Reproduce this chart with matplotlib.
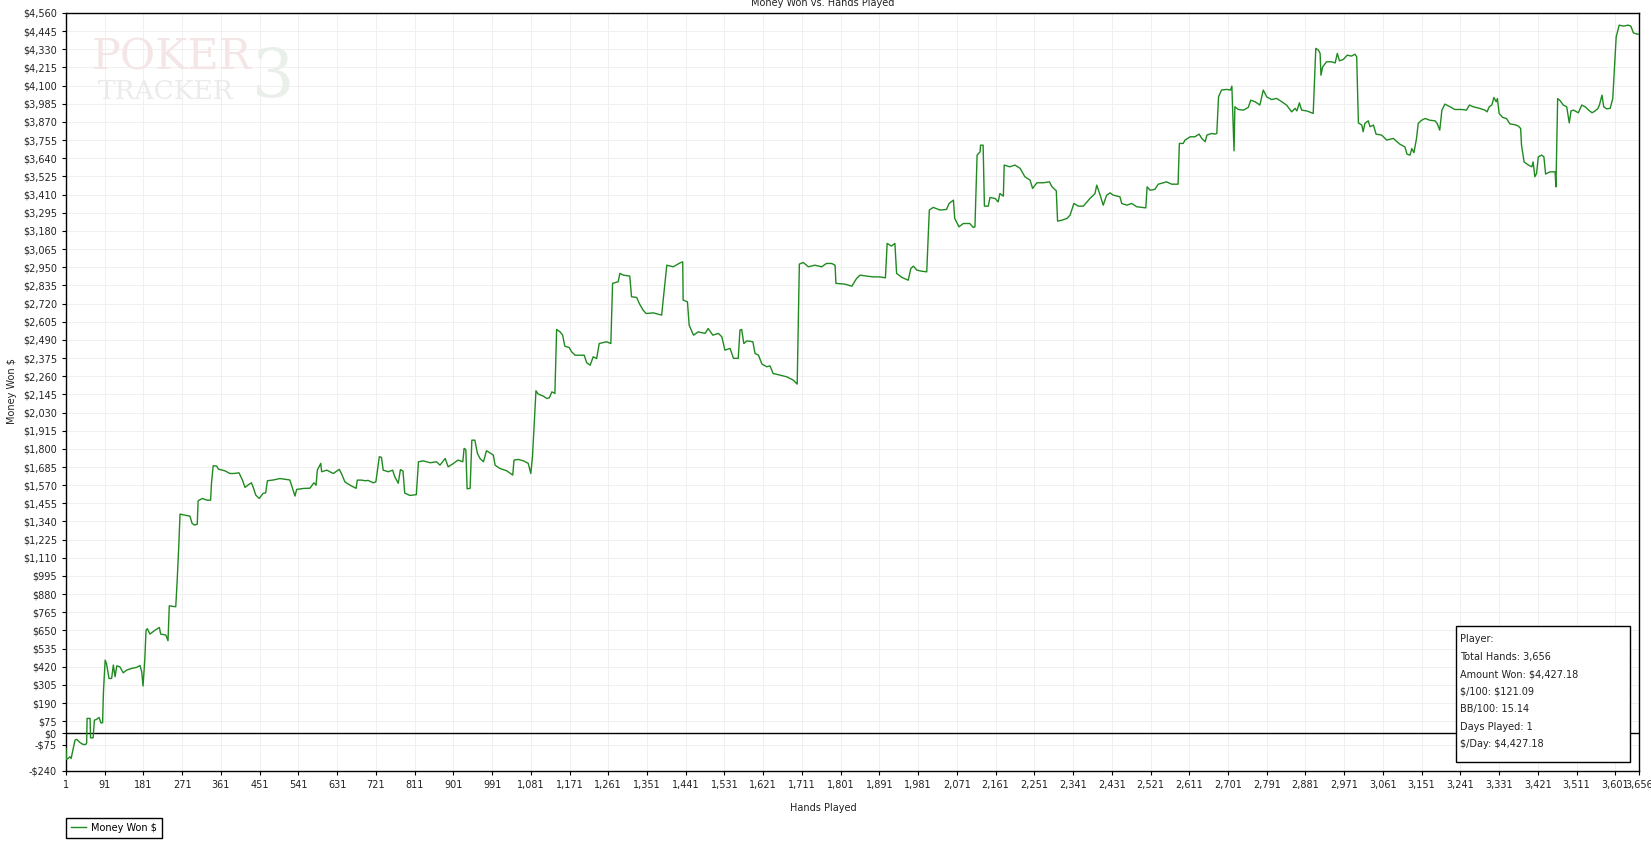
import matplotlib.pyplot as plt
from matplotlib.patches import Rectangle
from matplotlib.ticker import FuncFormatter

# cumulative winnings (hand number, dollars)
hands = [1, 2, 6, 10, 13, 16, 22, 26, 34, 41, 47, 49, 50, 57, 58, 64, 67, 72, 78, 82, 86, 88, 92,
         95, 101, 107, 111, 115, 119, 126, 134, 142, 154, 165, 173, 177, 180, 184, 187, 190, 196, 208,
         218, 221, 233, 238, 241, 256, 259, 263, 266, 277, 289, 294, 300, 306, 308, 318, 328, 337, 339,
         343, 351, 355, 370, 382, 391, 403, 411, 417, 427, 432, 436, 442, 450, 459, 465, 469, 483, 498,
         514, 521, 525, 533, 537, 552, 568, 573, 577, 582, 585, 593, 595, 607, 622, 636, 641, 649, 661,
         675, 678, 688, 696, 703, 715, 721, 729, 734, 738, 750, 760, 765, 773, 778, 784, 788, 800, 815,
         820, 831, 847, 862, 870, 882, 889, 901, 912, 923, 926, 930, 933, 940, 944, 951, 957, 963, 971,
         978, 986, 994, 998, 1009, 1025, 1039, 1042, 1052, 1064, 1075, 1081, 1085, 1093, 1098, 1110,
         1118, 1124, 1130, 1137, 1141, 1149, 1155, 1160, 1170, 1176, 1184, 1195, 1205, 1211, 1219, 1226,
         1234, 1240, 1257, 1267, 1271, 1284, 1288, 1296, 1311, 1315, 1327, 1333, 1342, 1349, 1366, 1385,
         1397, 1412, 1428, 1434, 1435, 1445, 1449, 1459, 1470, 1486, 1493, 1504, 1517, 1525, 1532, 1544,
         1552, 1563, 1567, 1571, 1576, 1583, 1597, 1602, 1610, 1618, 1629, 1637,
         1644, 1660, 1676, 1691, 1700, 1705, 1714, 1726, 1741, 1757, 1768, 1780, 1788, 1790, 1811, 1827,
         1838, 1846, 1861, 1877, 1892, 1905, 1909, 1919, 1927, 1931, 1943, 1958, 1964, 1970, 1978, 1989,
         2001, 2007, 2016, 2032, 2047, 2053, 2063, 2066, 2076, 2086, 2101, 2109, 2113, 2118, 2125, 2126,
         2132, 2135, 2144, 2148, 2160, 2167, 2171, 2179, 2181, 2194, 2206, 2218, 2229, 2241, 2247, 2257,
         2272, 2286, 2292, 2302, 2305, 2315, 2327, 2334, 2343, 2353, 2365, 2380, 2392, 2396, 2404, 2411,
         2419, 2427, 2434, 2450, 2454, 2466, 2477, 2489, 2500, 2510, 2513, 2520, 2531, 2539, 2551, 2558,
         2570, 2585, 2588, 2597, 2601, 2613, 2624, 2634, 2640, 2648, 2652, 2663, 2671, 2675, 2679, 2686,
         2698, 2707, 2710, 2715, 2717, 2725, 2737, 2748, 2754, 2764, 2775, 2783, 2791, 2802, 2814, 2826,
         2837, 2849, 2857, 2861, 2867, 2872, 2884, 2899, 2905, 2911, 2915, 2917, 2921, 2930, 2942, 2950,
         2955, 2960, 2969, 2978, 2988, 2996, 3000, 3004, 3012, 3015, 3019, 3027, 3031, 3039, 3045, 3058,
         3070, 3085, 3100, 3112, 3117, 3124, 3128, 3133, 3139, 3143, 3151, 3159, 3170, 3182, 3187, 3193,
         3198, 3205, 3217, 3228, 3244, 3255, 3262, 3271, 3286, 3298, 3303, 3308, 3314, 3319, 3324, 3327,
         3331, 3339, 3348, 3356, 3368, 3375, 3381, 3383, 3389, 3399, 3407, 3410, 3414, 3418, 3422, 3430,
         3435, 3439, 3449, 3461, 3463, 3467, 3473, 3480, 3488, 3494, 3498, 3504, 3515, 3523, 3531, 3539,
         3547, 3554, 3560, 3564, 3570, 3574, 3581, 3589, 3595, 3603, 3610, 3620, 3631, 3637, 3643, 3652,
         3656]
won = [-97, -167, -160, -150, -160, -120, -44, -40, -61, -72, -72, -60, 93, 93, -30, -30, 82, 87, 99, 65, 65, 262, 462,
       441, 346, 346, 431, 357, 426, 420, 382, 399, 410, 416, 428, 388, 298, 462, 652, 661, 627, 652,
       669, 627, 621, 585, 806, 800, 948, 1180, 1387, 1380, 1374, 1328, 1317, 1323, 1471, 1486, 1475, 1475, 1581,
       1693, 1691, 1672, 1661, 1644, 1644, 1648, 1602, 1556, 1577, 1585, 1556, 1507, 1486, 1518, 1522, 1598, 1603, 1612,
       1606, 1603, 1570, 1501, 1543, 1549, 1551, 1570, 1585, 1570, 1665, 1708, 1655, 1665, 1644, 1670, 1644, 1591, 1570,
       1550, 1602, 1602, 1598, 1600, 1585, 1591, 1750, 1746, 1665, 1655, 1665, 1623, 1582, 1668, 1660, 1520, 1505, 1510,
       1718, 1724, 1712, 1718, 1697, 1739, 1686, 1707, 1729, 1718, 1803, 1796, 1547, 1550, 1855, 1855, 1771, 1739, 1718,
       1788, 1775, 1760, 1697, 1676, 1661, 1634, 1729, 1733, 1724, 1708, 1644, 1754, 2168, 2147, 2134,
       2119, 2123, 2161, 2151, 2556, 2541, 2520, 2450, 2442, 2414, 2393, 2393, 2393, 2345, 2330, 2383,
       2372, 2467, 2478, 2467, 2848, 2858, 2911, 2900, 2894, 2763, 2759, 2721, 2678, 2657, 2661, 2647,
       2963, 2953, 2978, 2984, 2742, 2731, 2583, 2520, 2541, 2531, 2562, 2520, 2531, 2509, 2425, 2436,
       2373, 2373, 2552, 2556, 2467, 2484, 2478, 2404, 2393, 2337, 2320, 2325,
       2277, 2267, 2256, 2235, 2210, 2970, 2980, 2953, 2963, 2953, 2974, 2974, 2963, 2848, 2843, 2830,
       2879, 2900, 2894, 2889, 2889, 2883, 3101, 3084, 3101, 2911, 2886, 2868, 2942, 2957, 2932, 2925,
       2921, 3312, 3329, 3312, 3316, 3354, 3375, 3259, 3206, 3227, 3227, 3202, 3206, 3660, 3681, 3723,
       3723, 3337, 3337, 3392, 3385, 3364, 3417, 3400, 3597, 3586, 3597, 3576, 3523, 3502, 3449, 3485,
       3485, 3491, 3460, 3434, 3242, 3248, 3259, 3280, 3354, 3337, 3337, 3385, 3417, 3470, 3406, 3343,
       3406, 3421, 3407, 3396, 3354, 3343, 3354, 3333, 3329, 3326, 3459, 3438, 3443, 3476, 3485, 3491,
       3476, 3476, 3734, 3734, 3755, 3776, 3776, 3793, 3766, 3745, 3787, 3797, 3793, 3797, 4029, 4072,
       4076, 4072, 4097, 3687, 3966, 3949, 3945, 3962, 4008, 3998, 3977, 4072, 4029, 4012, 4019, 3998,
       3977, 3934, 3956, 3940, 3991, 3945, 3940, 3924, 4336, 4325, 4304, 4166, 4219, 4251, 4251, 4244,
       4304, 4257, 4266, 4293, 4287, 4299, 4283, 3864, 3850, 3808, 3861, 3877, 3840, 3850, 3793, 3787,
       3755, 3766, 3730, 3712, 3666, 3660, 3702, 3675, 3765, 3861, 3881, 3892, 3881, 3877, 3861, 3818,
       3945, 3983, 3966, 3949, 3949, 3945, 3977, 3966, 3956, 3945, 3934, 3966, 3977, 4025, 3998, 4018,
       3924, 3899, 3892, 3858, 3852, 3845, 3829, 3723, 3617, 3597, 3586, 3617, 3523, 3544, 3649, 3660,
       3649, 3540, 3554, 3554, 3459, 4018, 4004, 3977, 3966, 3864, 3940, 3945, 3928, 3977, 3966, 3945,
       3928, 3940, 3953, 3977, 4040, 3966, 3953, 3956, 4018, 4409, 4483, 4477, 4483, 4477, 4434, 4426,
       4427]

x_ticks = list(range(1, 3602, 90)) + [3656]
y_ticks = [-240, -75, 0] + list(range(75, 4561, 115))

info_lines = ["Player:", "Total Hands: 3,656", "Amount Won: $4,427.18", "$/100: $121.09",
              "BB/100: 15.14", "Days Played: 1", "$/Day: $4,427.18"]

W, H = 1651, 848
fig = plt.figure(figsize=(W / 100, H / 100), dpi=100)
fig.patch.set_facecolor('white')

# axes box in pixels: left 66, right 1639, top 13, bottom 771
ax = fig.add_axes([66 / W, 1 - 771 / H, (1639 - 66) / W, (771 - 13) / H])

# faint PokerTracker watermark
fig.text(92 / W, 1 - 70 / H, 'POKER', fontsize=31, family='DejaVu Serif',
         color='#f4e6e6', zorder=0)
fig.text(98 / W, 1 - 99 / H, 'TRACKER', fontsize=19, family='DejaVu Serif',
         color='#ebebeb', zorder=0)
fig.text(252 / W, 1 - 97 / H, '3', fontsize=48, family='DejaVu Serif',
         color='#e9efe9', zorder=0)

ax.plot(hands, won, color='#1f8a1f', lw=1.0, label='Money Won $', zorder=3)
ax.axhline(0, color='black', lw=1.0, zorder=2)

ax.set_xlim(1, 3656)
ax.set_ylim(-240, 4560)
ax.set_xticks(x_ticks)
ax.set_yticks(y_ticks)
ax.xaxis.set_major_formatter(FuncFormatter(lambda v, p: '{:,}'.format(int(v))))
ax.yaxis.set_major_formatter(FuncFormatter(
    lambda v, p: ('-$' if v < 0 else '$') + '{:,}'.format(abs(int(v)))))
ax.grid(True, color='#f0f0f0', lw=0.7, zorder=0)
ax.set_axisbelow(True)
ax.tick_params(labelsize=7, length=3, width=0.8, colors='black', labelcolor='#222222')
for s in ax.spines.values():
    s.set_color('black')
    s.set_linewidth(1.0)

fig.text(12 / W, 1 - 391 / H, 'Money Won $', rotation=90, ha='center', va='center',
         fontsize=7, color='#222222')
fig.text(823 / W, 1 - 808 / H, 'Hands Played', ha='center', va='center', fontsize=7, color='#222222')
fig.text(823 / W, 1 - 6 / H, 'Money Won vs. Hands Played', ha='center', va='baseline',
         fontsize=7, color='#222222')

ax.legend(loc='upper left', bbox_to_anchor=(66 / W, 1 - 818 / H), bbox_transform=fig.transFigure,
          borderaxespad=0, fancybox=False, edgecolor='black', framealpha=1, fontsize=7,
          handlelength=1.6, borderpad=0.5, handletextpad=0.5)

# stats box
box = Rectangle((1456 / W, 1 - 762 / H), (1630 - 1456) / W, (762 - 626) / H,
                transform=fig.transFigure, facecolor='white', edgecolor='black', lw=1.0, zorder=5)
fig.patches.append(box)
for i, line in enumerate(info_lines):
    fig.text(1460 / W, 1 - (639.5 + i * 17.4) / H, line, ha='left', va='center',
             fontsize=7, color='#222222', zorder=6, parse_math=False)

fig.savefig('out.png', dpi=100)
